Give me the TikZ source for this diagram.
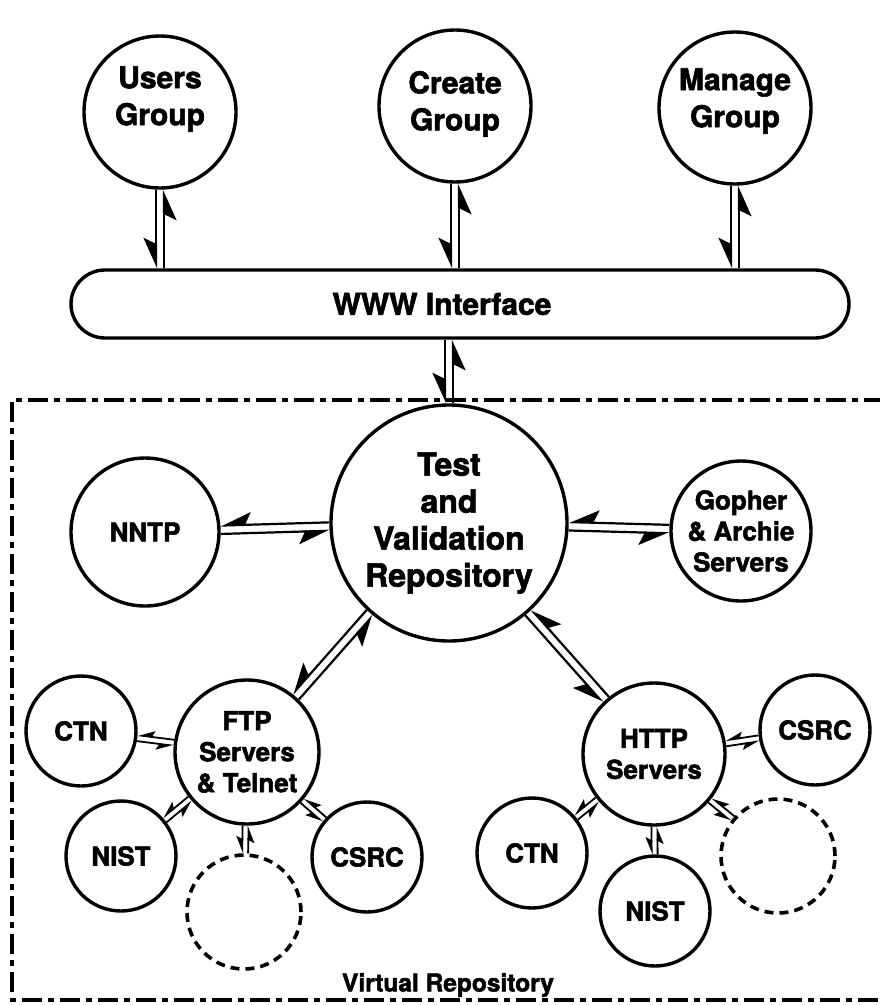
\documentclass[tikz,border=0pt]{standalone}
\usepackage{fontspec}
\setmainfont{TeX Gyre Heros}[BoldFeatures={FakeBold=2}]
\usetikzlibrary{arrows.meta,calc}
\newcommand\conn[6]{%
  \draw[#1,shorten <=#4pt,shorten >=#6pt] ($(#3.center)!#2pt!-90:(#5.center)$) -- ($(#5.center)!#2pt!90:(#3.center)$);
  \draw[#1,shorten <=#6pt,shorten >=#4pt] ($(#5.center)!#2pt!-90:(#3.center)$) -- ($(#3.center)!#2pt!90:(#5.center)$);}
\begin{document}
\begin{tikzpicture}[x=1pt,y=-1pt,
  circ/.style={circle,draw,line width=3.4pt,inner sep=0pt,align=center,
    font=\bfseries\fontsize{26}{31}\selectfont},
  dcirc/.style={circle,draw,line width=3.6pt,inner sep=0pt,dash pattern=on 9pt off 6pt},
  bigtxt/.style={align=center,inner sep=0pt,font=\bfseries\fontsize{30}{37}\selectfont},
  bigarr/.style={line width=2.2pt,-{Stealth[harpoon,swap,length=28pt,width=25pt,inset=6pt]}},
  smarr/.style={line width=1.8pt,-{Stealth[harpoon,swap,length=15pt,width=12pt,inset=3pt]}},
]
\useasboundingbox (0,0) rectangle (880,1005);
% dashed frame
\draw[line width=4pt,dash pattern=on 20pt off 6pt on 6pt off 6pt]
  (884,400) -- (12,400) -- (12,1000) -- (884,1000);
% top circles
\node[circ,minimum size=152pt] (users) at (160,112) {};
\node[bigtxt] (userst) at (160,99) {Users\\Group};
\node[circ,minimum size=152pt] (create) at (455,106) {};
\node[bigtxt] (createt) at (455,104) {Create\\Group};
\node[circ,minimum size=152pt] (manage) at (735,108) {};
\node[bigtxt] (managet) at (735,101) {Manage\\Group};
% WWW interface
\node[draw,line width=3.4pt,rounded corners=34pt,minimum width=778pt,minimum height=68pt,
  inner sep=0pt] (www) at (460,304) {};
\node[inner sep=0pt,font=\bfseries\fontsize{30}{34}\selectfont] (wwwt) at (442,304) {WWW Interface};
\coordinate (wu) at (160,270);
\coordinate (wc) at (455,270);
\coordinate (wm) at (735,270);
\coordinate (wb) at (449,338);
% central
\node[circ,minimum size=236pt,font=\bfseries\fontsize{32}{37}\selectfont] (test) at (449,523)
  {Test\\and\\Validation\\Repository};
\node[circ,minimum size=148pt] (nntp) at (145,532) {NNTP};
\node[circ,minimum size=140pt] (gopher) at (741,531) {Gopher\\\&~Archie\\Servers};
\node[circ,minimum size=144pt] (ftp) at (247,752) {FTP\\Servers\\\&~Telnet};
\node[circ,minimum size=142pt] (http) at (654,754) {HTTP\\Servers};
% small
\node[circ,minimum size=110pt] (ctnl) at (81,731) {CTN};
\node[circ,minimum size=110pt] (nistl) at (121,856) {NIST};
\node[dcirc,minimum size=114pt] (dashl) at (244,912) {};
\node[circ,minimum size=110pt] (csrcl) at (367,857) {CSRC};
\node[circ,minimum size=110pt] (csrcr) at (815,730) {CSRC};
\node[circ,minimum size=110pt] (ctnr) at (532,853) {CTN};
\node[circ,minimum size=110pt] (nistr) at (655,911) {NIST};
\node[dcirc,minimum size=114pt] (dashr) at (778,856) {};
\node[inner sep=0pt,font=\bfseries\fontsize{24.5}{29}\selectfont] (vr) at (448,985) {Virtual Repository};
% connectors
\conn{bigarr}{4}{users}{77.7}{wu}{1.7}
\conn{bigarr}{4}{create}{77.7}{wc}{1.7}
\conn{bigarr}{4}{manage}{77.7}{wm}{1.7}
\conn{bigarr}{4}{wb}{1.7}{test}{119.7}
\conn{bigarr}{4.2}{test}{119.7}{nntp}{75.7}
\conn{bigarr}{4.2}{test}{119.7}{gopher}{71.7}
\conn{bigarr}{4.2}{test}{119.7}{ftp}{73.7}
\conn{bigarr}{4.2}{test}{119.7}{http}{72.7}
\conn{smarr}{3}{ftp}{73.7}{ctnl}{56.7}
\conn{smarr}{3}{ftp}{73.7}{nistl}{56.7}
\conn{smarr}{3}{ftp}{73.7}{dashl}{58.7}
\conn{smarr}{3}{ftp}{73.7}{csrcl}{56.7}
\conn{smarr}{3}{http}{72.7}{csrcr}{56.7}
\conn{smarr}{3}{http}{72.7}{ctnr}{56.7}
\conn{smarr}{3}{http}{72.7}{nistr}{56.7}
\conn{smarr}{3}{http}{72.7}{dashr}{58.7}
\end{tikzpicture}
\end{document}
